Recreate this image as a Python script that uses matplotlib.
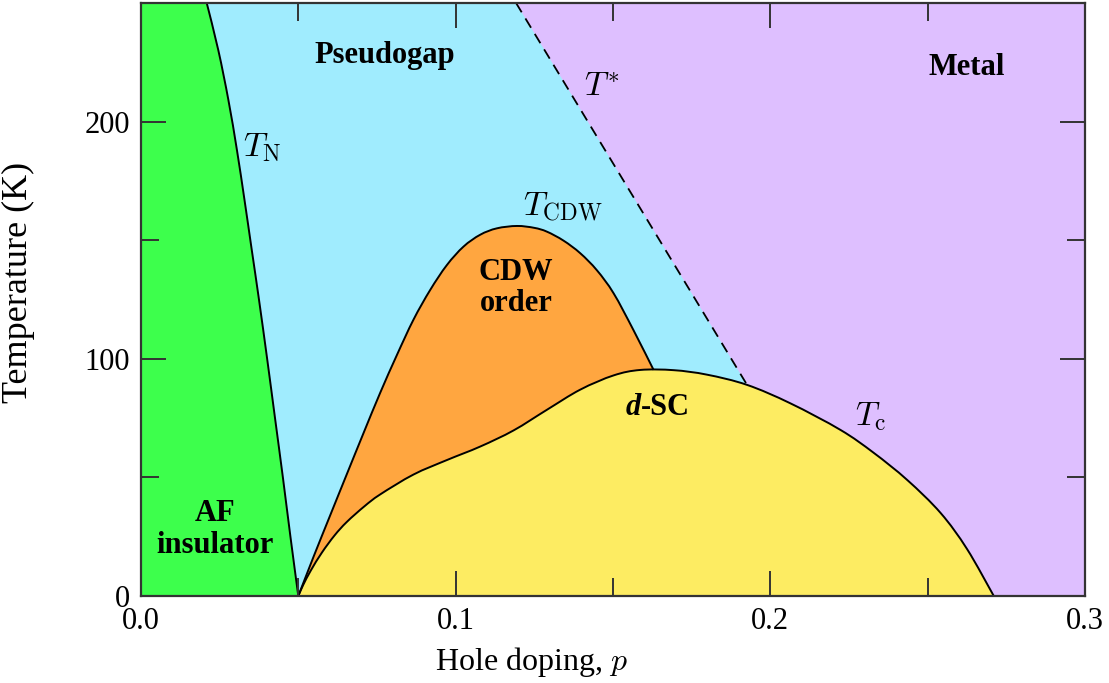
import numpy as np
import matplotlib.pyplot as plt
from matplotlib.path import Path
from matplotlib.patches import PathPatch
from matplotlib.ticker import MultipleLocator

plt.rcParams['font.family'] = ['Liberation Serif', 'DejaVu Serif']
plt.rcParams['mathtext.fontset'] = 'cm'

# phase boundaries (p, T in K)
tn_p = [0.0209, 0.0246, 0.0278, 0.0305, 0.0329, 0.0352, 0.0375, 0.0401, 0.0426, 0.0451, 0.0475, 0.0500]
tn_T = [250, 230, 209, 188, 167, 146, 125, 100, 75, 50, 25, 0]

tstar_p = [0.1192, 0.1926]
tstar_T = [250, 89.0]

cdw_p = [0.0500, 0.0548, 0.0601, 0.0654, 0.0707, 0.0760, 0.0813, 0.0866, 0.0919,
         0.0972, 0.1025, 0.1078, 0.1131, 0.1195, 0.1250, 0.1290, 0.1343, 0.1396,
         0.1449, 0.1502, 0.1565, 0.1629]
cdw_T = [0, 16.4, 33.9, 51.3, 68.6, 85.6, 101.5, 116.5, 129.0,
         139.5, 147.3, 152.3, 155.0, 156.0, 155.2, 153.6, 149.8, 144.5,
         137.3, 127.6, 112.1, 95.3]

tc_p = [0.0500, 0.0515, 0.0540, 0.0575, 0.0615, 0.0654, 0.0710, 0.0760, 0.0866,
        0.0972, 0.1078, 0.1184, 0.1290, 0.1396, 0.1502, 0.1587, 0.1693, 0.1799,
        0.1926, 0.2064, 0.2223, 0.2328, 0.2435, 0.2541, 0.2625, 0.2710]
tc_T = [0, 4.5, 10.8, 18.3, 25.5, 31.2, 37.8, 42.8, 51.2,
        57.3, 63.0, 69.8, 78.5, 87.0, 93.0, 95.3, 95.2, 93.3,
        89.0, 81.2, 70.0, 60.4, 48.9, 35.0, 19.8, 0]

c_af = '#3dff4c'
c_pg = '#a0ecfe'
c_metal = '#debfff'
c_cdw = '#ffa640'
c_sc = '#fdec62'


def bezier(xs, ys):
    """Catmull-Rom through the points, as cubic Bezier segments."""
    pts = np.column_stack([xs, ys]).astype(float)
    n = len(pts)
    verts, codes = [pts[0]], [Path.MOVETO]
    for i in range(n - 1):
        a = pts[i - 1] if i > 0 else pts[i]
        d = pts[i + 2] if i + 2 < n else pts[i + 1]
        verts += [pts[i] + (pts[i + 1] - a) / 6, pts[i + 1] - (d - pts[i]) / 6, pts[i + 1]]
        codes += [Path.CURVE4] * 3
    return verts, codes


def region(ax, pieces, color):
    verts, codes = [], []
    for v, c in pieces:
        if codes:
            c = [Path.LINETO] + c[1:]
        verts += list(v)
        codes += list(c)
    verts.append(verts[0])
    codes.append(Path.CLOSEPOLY)
    ax.add_patch(PathPatch(Path(verts, codes), fc=color, ec='none', lw=0))


def line(pts):
    return [np.array(p, float) for p in pts], [Path.MOVETO] + [Path.LINETO] * (len(pts) - 1)


fig = plt.figure(figsize=(11.09, 6.83), dpi=100)
ax = fig.add_axes([0.1271, 0.1274, 0.8513, 0.8682])
ax.set_facecolor(c_metal)

tn = bezier(tn_p, tn_T)
cdw = bezier(cdw_p, cdw_T)
tc = bezier(tc_p, tc_T)

# pseudogap: right of T_N, left of T*, lower part hidden under the domes
region(ax, [tn, line([(tstar_p[1], 0), (tstar_p[1], tstar_T[1]), (tstar_p[0], tstar_T[0])])], c_pg)
# AF insulator
region(ax, [line([(0, 0), (0, 250)]), tn], c_af)
# CDW and d-SC domes
region(ax, [cdw, line([(cdw_p[-1], 0)])], c_cdw)
region(ax, [tc], c_sc)

for v, c in (tn, cdw, tc):
    ax.add_patch(PathPatch(Path(v, c), fc='none', ec='k', lw=1.4, capstyle='butt'))
ax.plot(tstar_p, tstar_T, color='k', lw=1.3, ls=(0, (6, 4)))

ax.set_xlim(0, 0.3)
ax.set_ylim(0, 250)
ax.xaxis.set_major_locator(MultipleLocator(0.1))
ax.xaxis.set_minor_locator(MultipleLocator(0.05))
ax.yaxis.set_major_locator(MultipleLocator(100))
ax.yaxis.set_minor_locator(MultipleLocator(50))
ax.xaxis.set_major_formatter(lambda v, pos: f'{v:.1f}')
ax.tick_params(which='both', direction='in', top=True, right=True,
               width=1.4, color='#333333', labelsize=22, pad=8)
ax.tick_params(which='major', length=18)
ax.tick_params(which='minor', length=13)
for s in ax.spines.values():
    s.set_linewidth(1.6)
    s.set_color('#333333')

ax.set_xlabel(r'Hole doping, $\it{p}$', fontsize=23)
ax.set_ylabel('Temperature (K)', fontsize=26)
ax.xaxis.set_label_coords(0.413, -0.083)
ax.yaxis.set_label_coords(-0.112, 0.528)

bold = dict(fontsize=22, fontweight='bold', ha='center', va='center')
ax.text(0.0776, 228, 'Pseudogap', **bold)
ax.text(0.2623, 223, 'Metal', **bold)
ax.text(0.0235, 28, 'AF\ninsulator', linespacing=1.12, **bold)
ax.text(0.1192, 130, 'CDW\norder', linespacing=1.1, **bold)
ax.text(0.1590, 79.3, '-SC', fontsize=22, fontweight='bold', ha='left', va='center')
ax.text(0.1590, 79.3, 'd', fontsize=22, fontweight='bold', style='italic',
        ha='right', va='center')

ax.text(0.0385, 189, r'$T_{\rm N}$', fontsize=24, ha='center', va='center')
ax.text(0.1465, 214, r'$T^{*}$', fontsize=24, ha='center', va='center')
ax.text(0.1339, 164, r'$T_{\rm CDW}$', fontsize=24, ha='center', va='center')
ax.text(0.2318, 75.5, r'$T_{\rm c}$', fontsize=24, ha='center', va='center')

fig.savefig('out.png', dpi=100)
